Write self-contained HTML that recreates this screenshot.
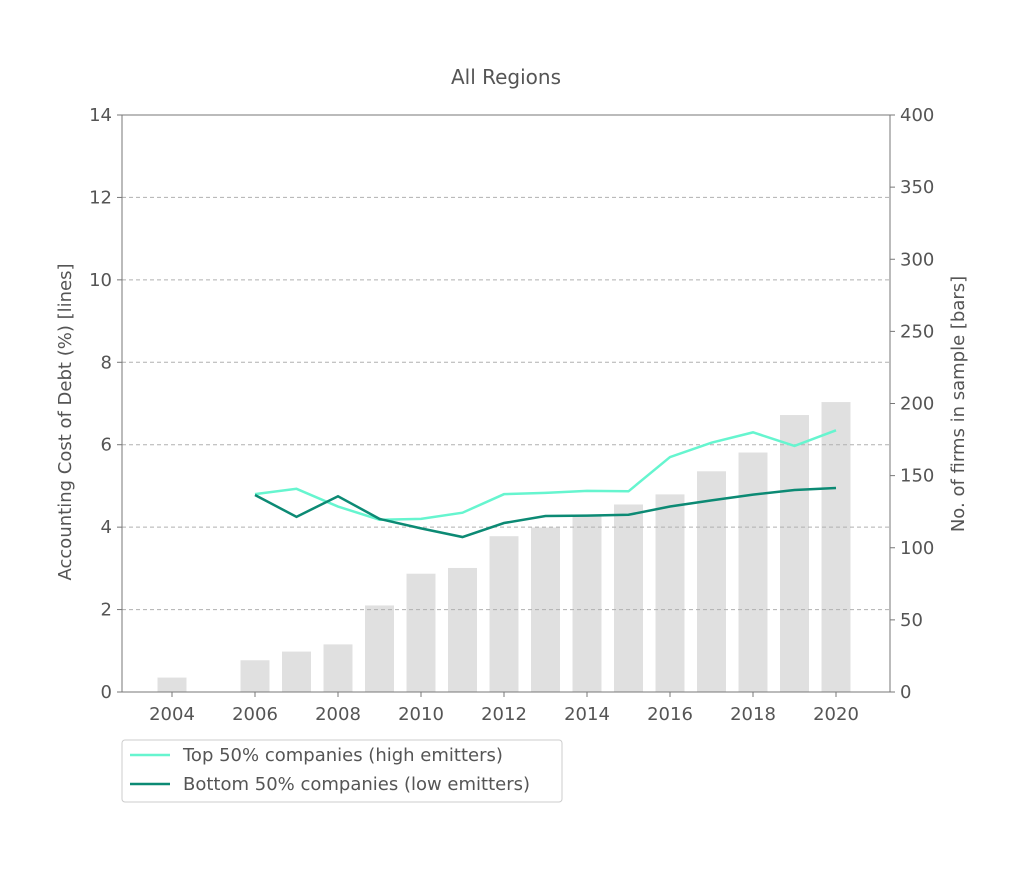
<!DOCTYPE html>
<html><head><meta charset="utf-8"><style>body{margin:0;background:#fff}svg text{font-family:"DejaVu Sans","Liberation Sans",sans-serif;fill:#555}</style></head>
<body>
<svg id="chart" width="1024" height="870" xmlns="http://www.w3.org/2000/svg"></svg>
<script>
const years=[2004,2005,2006,2007,2008,2009,2010,2011,2012,2013,2014,2015,2016,2017,2018,2019,2020];
const firms=[10,null,22,28,33,60,82,86,108,114,123,130,137,153,166,192,201];
const lineYears=[2006,2007,2008,2009,2010,2011,2012,2013,2014,2015,2016,2017,2018,2019,2020];
const topSeries=[4.8,4.93,4.5,4.18,4.2,4.35,4.8,4.83,4.88,4.87,5.7,6.05,6.3,5.97,6.35];
const bottomSeries=[4.78,4.25,4.75,4.2,3.97,3.76,4.1,4.27,4.28,4.3,4.5,4.65,4.79,4.9,4.95];
const leftTicks=[0,2,4,6,8,10,12,14];
const rightTicks=[0,50,100,150,200,250,300,350,400];
const xTicks=[2004,2006,2008,2010,2012,2014,2016,2018,2020];
const L=122,R=890,T=115,B=692;
const x=v=>172+(v-2004)*41.5;
const yl=v=>B-(v/14)*(B-T);
const yr=v=>B-(v/400)*(B-T);
const svg=document.getElementById('chart');
function add(tag,attrs,name,text){const e=document.createElementNS('http://www.w3.org/2000/svg',tag);for(const k in attrs)e.setAttribute(k,attrs[k]);


if(text!==undefined)e.textContent=text;svg.appendChild(e);return e;}
firms.forEach((f,i)=>{if(f==null)return;add('rect',{x:x(years[i])-14.5,y:yr(f),width:29,height:B-yr(f),fill:'#e0e0e0'},'bar-'+years[i]);});
leftTicks.forEach(t=>{if(t>0&&t<14)add('line',{x1:L,x2:R,y1:yl(t),y2:yl(t),stroke:'#b0b0b0','stroke-dasharray':'4,3'},'grid-line');});
add('rect',{x:L,y:T,width:R-L,height:B-T,fill:'none',stroke:'#777'},'plot-frame');
leftTicks.forEach(t=>{add('line',{x1:L-5,x2:L,y1:yl(t),y2:yl(t),stroke:'#777'},'left-tick');add('text',{x:L-10,y:yl(t)+6,'text-anchor':'end','font-size':18},'left-tick-label',t);});
rightTicks.forEach(t=>{add('line',{x1:R,x2:R+5,y1:yr(t),y2:yr(t),stroke:'#777'},'right-tick');add('text',{x:R+10,y:yr(t)+6,'font-size':18},'right-tick-label',t);});
xTicks.forEach(t=>{add('line',{x1:x(t),x2:x(t),y1:B,y2:B+5,stroke:'#777'},'x-tick');add('text',{x:x(t),y:B+28,'text-anchor':'middle','font-size':18},'x-tick-label',t);});
function line(vals,color,name){add('polyline',{points:vals.map((v,i)=>x(lineYears[i])+','+yl(v)).join(' '),fill:'none',stroke:color,'stroke-width':2.5},name);}
line(topSeries,'#66f5cf','line-top-50');
line(bottomSeries,'#0c8a74','line-bottom-50');
add('text',{x:506,y:84,'text-anchor':'middle','font-size':20},'chart-title','All Regions');
add('text',{x:71,y:422,'text-anchor':'middle','font-size':18,transform:'rotate(-90 71 422)'},'left-axis-title','Accounting Cost of Debt (%)  [lines]');
add('text',{x:964,y:404,'text-anchor':'middle','font-size':18,transform:'rotate(-90 964 404)'},'right-axis-title','No. of firms in sample [bars]');
add('rect',{x:122,y:740,width:440,height:62,rx:3,fill:'#fff',stroke:'#ccc'},'legend-box');
add('line',{x1:130,x2:170,y1:755,y2:755,stroke:'#66f5cf','stroke-width':2.5},'legend-swatch-top');
add('text',{x:183,y:761,'font-size':18},'legend-label-top','Top 50% companies (high emitters)');
add('line',{x1:130,x2:170,y1:784,y2:784,stroke:'#0c8a74','stroke-width':2.5},'legend-swatch-bottom');
add('text',{x:183,y:790,'font-size':18},'legend-label-bottom','Bottom 50% companies (low emitters)');
</script>
</body></html>
